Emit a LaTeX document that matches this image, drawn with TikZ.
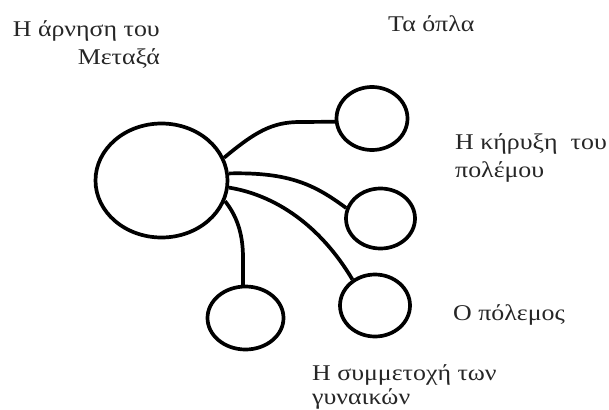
\documentclass[tikz,border=0pt]{standalone}
\usepackage{fontspec}
\setmainfont{Liberation Serif}[FakeStretch=1.15]
\usetikzlibrary{shapes.geometric}
\tikzset{
  bubble/.style={ellipse, draw=black, line width=3.7pt, inner sep=0pt, minimum width=#1},
  link/.style={draw=black, line width=3.7pt},
  lbl/.style={inner sep=0pt, text=black!85, font=\fontsize{22.5}{28}\selectfont}
}
\begin{document}
\begin{tikzpicture}[x=1pt, y=-1pt]
\useasboundingbox (0,0) rectangle (609,409);
% circles
\node[bubble=132pt, minimum height=114pt] (big) at (161.5,180.5) {};
\node[bubble=71pt, minimum height=63pt] (c1) at (372,118.5) {};
\node[bubble=69pt, minimum height=60pt] (c2) at (380.5,218.5) {};
\node[bubble=70pt, minimum height=62pt] (c3) at (375,305.5) {};
\node[bubble=76pt, minimum height=63pt] (c4) at (245.5,318) {};
% connectors
\draw[link] (big.20) .. controls (255,132) and (272,122) .. (300,122) -- (c1.185);
\draw[link] (big.6) .. controls (290,172) and (315,185) .. (c2.163);
\draw[link] (big.-6) .. controls (275,195) and (320,225) .. (c3.131);
\draw[link] (big.-18) .. controls (236,215) and (243,232) .. (243,258) -- (243,287);
% labels
\node[lbl, anchor=base east, align=right] (t1) at (160,65) {Η άρνηση του\\Μεταξά};
\node[lbl, anchor=base west] (t2) at (388,32) {Τα όπλα};
\node[lbl, anchor=base west, align=left] (t3) at (455,177) {Η κήρυξη\ \ του\\πολέμου};
\node[lbl, anchor=base west] (t4) at (453,320) {Ο πόλεμος};
\node[lbl, anchor=base west, align=left, font=\fontsize{22.5}{24}\selectfont] (t5) at (312,404) {Η συμμετοχή των\\γυναικών};
\end{tikzpicture}
\end{document}
